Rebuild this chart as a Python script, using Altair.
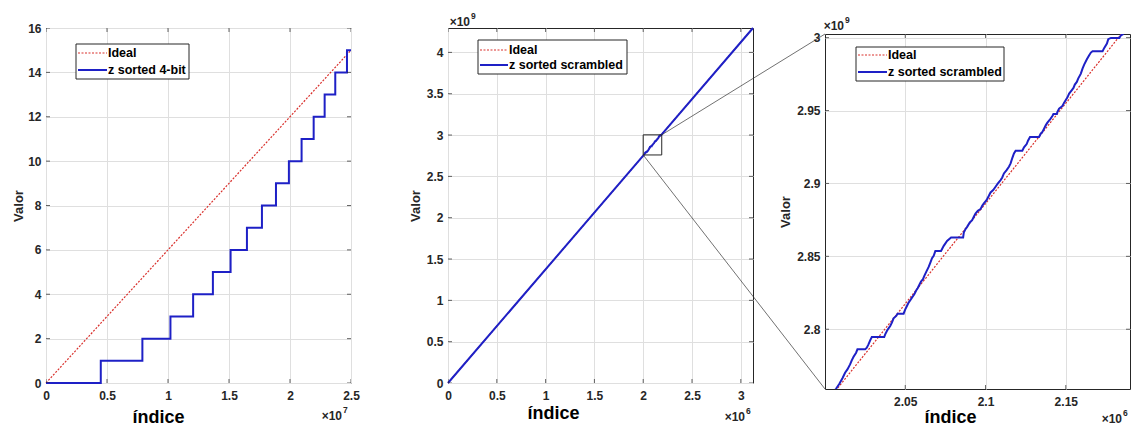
import altair as alt
import pandas as pd

# ---------------- data ----------------
# Panel 1: sorted 4-bit values (index in units of 1e7)
IDX4_IDEAL = [0.0, 2.5]
VAL4_IDEAL = [0.0, 15.0]
IDX4_SORTED = [0.0, 0.449, 0.790, 1.020, 1.206, 1.368, 1.513, 1.647, 1.770,
               1.885, 1.991, 2.095, 2.194, 2.284, 2.371, 2.467, 2.5]
VAL4_SORTED = [0, 1, 2, 3, 4, 5, 6, 7, 8, 9, 10, 11, 12, 13, 14, 15, 15]
X4_TICKS = [0, 0.5, 1, 1.5, 2, 2.5]
Y4_TICKS = [0, 2, 4, 6, 8, 10, 12, 14, 16]
LEGEND_4BIT = ["Ideal", "z sorted 4-bit"]

# Panels 2 and 3: sorted scrambled 32-bit values (index x1e6, value x1e9)
IDX_IDEAL = [0.0, 3.125]
VAL_IDEAL = [0.0, 4.294967296]
IDX_SCR = [
    0.0,
    2.00688, 2.00896, 2.01104, 2.01250, 2.01396, 2.01563, 2.01667, 2.01771, 2.01938, 2.02021,
    2.02500, 2.02604, 2.02708, 2.02813, 2.02917, 2.03688, 2.03750, 2.03854, 2.03958, 2.04063,
    2.04167, 2.04271, 2.04438, 2.04521, 2.04896, 2.05000, 2.05104, 2.05208, 2.05313, 2.05417,
    2.05563, 2.05688, 2.05771, 2.05896, 2.05979, 2.06104, 2.06188, 2.06313, 2.06458, 2.06563,
    2.06667, 2.06771, 2.06875, 2.07229, 2.07396, 2.07604, 2.07854, 2.08604, 2.08646, 2.08750,
    2.08854, 2.09021, 2.09167, 2.09271, 2.09375, 2.09521, 2.09688, 2.09792, 2.09896, 2.10063,
    2.10208, 2.10313, 2.10479, 2.10625, 2.10771, 2.10938, 2.11042, 2.11146, 2.11313, 2.11458,
    2.11563, 2.11667, 2.11771, 2.11875, 2.12292, 2.12396, 2.12563, 2.12646, 2.12771, 2.13333,
    2.13438, 2.13542, 2.13646, 2.13750, 2.13854, 2.14021, 2.14167, 2.14229, 2.14438, 2.14479,
    2.14583, 2.14792, 2.14896, 2.15000, 2.15104, 2.15208, 2.15354, 2.15479, 2.15563, 2.15688,
    2.15771, 2.15938, 2.16042, 2.16146, 2.16313, 2.16458, 2.16563, 2.16667, 2.17292, 2.17396,
    2.17563, 2.17646, 2.17813, 2.18333, 2.18438, 2.18542,
    3.125,
]
VAL_SCR = [
    0.0,
    2.75917, 2.76261, 2.76673, 2.77016, 2.77245, 2.77589, 2.77863, 2.78092, 2.78390, 2.78619,
    2.78619, 2.78734, 2.78963, 2.79237, 2.79466, 2.79466, 2.79650, 2.79879, 2.80062, 2.80222,
    2.80451, 2.80749, 2.80909, 2.81069, 2.81069, 2.81367, 2.81596, 2.81825, 2.81985, 2.82168,
    2.82397, 2.82672, 2.82810, 2.83084, 2.83268, 2.83428, 2.83657, 2.83955, 2.84275, 2.84573,
    2.84871, 2.85031, 2.85374, 2.85374, 2.85718, 2.86061, 2.86290, 2.86290, 2.86634, 2.86863,
    2.87023, 2.87321, 2.87481, 2.87710, 2.87939, 2.88122, 2.88237, 2.88466, 2.88626, 2.88855,
    2.89153, 2.89382, 2.89542, 2.89771, 2.90000, 2.90229, 2.90412, 2.90687, 2.90916, 2.91145,
    2.91374, 2.91740, 2.92061, 2.92244, 2.92244, 2.92473, 2.92702, 2.92931, 2.93183, 2.93183,
    2.93412, 2.93526, 2.93755, 2.93984, 2.94168, 2.94397, 2.94626, 2.94763, 2.94763, 2.94900,
    2.95129, 2.95313, 2.95542, 2.95725, 2.95908, 2.96160, 2.96366, 2.96549, 2.96778, 2.96961,
    2.97190, 2.97534, 2.97877, 2.98152, 2.98518, 2.98793, 2.98976, 2.99068, 2.99068, 2.99297,
    2.99595, 2.99892, 2.99984, 2.99984, 3.00167, 3.00213,
    4.294967296,
]
X_FULL_TICKS = [0, 0.5, 1, 1.5, 2, 2.5, 3]
Y_FULL_TICKS = [0, 0.5, 1, 1.5, 2, 2.5, 3, 3.5, 4]
X_ZOOM_TICKS = [2.05, 2.1, 2.15]
Y_ZOOM_TICKS = [2.8, 2.85, 2.9, 2.95, 3.0]
ZOOM_X = [2.0, 2.19]
ZOOM_Y = [2.759, 3.0025]
LEGEND_SCR = ["Ideal", "z sorted scrambled"]

# ---------------- styling ----------------
W, H = 305, 355          # plot area of every panel
GAP_1, GAP_2 = 97, 72    # horizontal gaps between plot areas
DY_ZOOM = 6              # the zoomed panel sits a little lower
FONT = "Liberation Sans"
INK = "#262626"
GRID = "#dfdfdf"
RED = "#d9302c"
BLUE = "#1e20c6"


def scale(dom):
    return alt.Scale(domain=dom, nice=False, zero=False)


def x_axis(ticks, title_x, title_base):
    return alt.Axis(values=ticks, format="~g", title="índice", grid=True,
                    gridColor=GRID, gridWidth=1, domain=False, ticks=False, tickSize=0,
                    labelFont=FONT, labelFontSize=12, labelFontWeight="bold",
                    labelColor=INK, labelPadding=7, labelFlush=False, labelOverlap=False,
                    titleFont=FONT, titleFontSize=18, titleFontWeight="bold",
                    titleColor="black", titleX=title_x, titleY=title_base,
                    titleAlign="center", titleBaseline="alphabetic")


def y_axis(ticks, title_off):
    return alt.Axis(values=ticks, format="~g", title="Valor", grid=True,
                    gridColor=GRID, gridWidth=1, domain=False, ticks=False, tickSize=0,
                    labelFont=FONT, labelFontSize=12, labelFontWeight="bold",
                    labelColor=INK, labelPadding=5, labelOverlap=False,
                    titleFont=FONT, titleFontSize=13, titleFontWeight="bold",
                    titleColor=INK, titleX=-title_off, titleY=H / 2, titleAngle=270,
                    titleAlign="center", titleBaseline="middle")


class Panel:
    """Shared scales and axes for all layers of one panel."""

    def __init__(self, xdom, ydom, xticks, yticks, xtitle_x, xtitle_base, ytitle_off):
        self.xdom, self.ydom = xdom, ydom
        self.xticks, self.yticks = xticks, yticks
        self.xa = x_axis(xticks, xtitle_x, xtitle_base)
        self.ya = y_axis(yticks, ytitle_off)

    def X(self, field):
        return alt.X(field, scale=scale(self.xdom), axis=self.xa)

    def Y(self, field):
        return alt.Y(field, scale=scale(self.ydom), axis=self.ya)

    def series(self, xs, ys, color, width, dash=None, interp="linear", clip=False):
        df = pd.DataFrame({"i": xs, "v": ys})
        kw = dict(color=color, strokeWidth=width, interpolate=interp, clip=clip)
        if dash:
            kw["strokeDash"] = dash
        return alt.Chart(df).mark_line(**kw).encode(x=self.X("i:Q"), y=self.Y("v:Q"))

    def inner_ticks(self):
        dx = pd.DataFrame({"i": self.xticks})
        dy = pd.DataFrame({"v": self.yticks})
        out = []
        for yy in (0, H):
            out.append(alt.Chart(dx).mark_tick(orient="vertical", size=8, thickness=1,
                                               color=INK, clip=True)
                       .encode(x=self.X("i:Q"), y=alt.value(yy)))
        for xx in (0, W):
            out.append(alt.Chart(dy).mark_tick(orient="horizontal", size=8, thickness=1,
                                               color=INK, clip=True)
                       .encode(y=self.Y("v:Q"), x=alt.value(xx)))
        return out


def legend(labels, x0, x1, y0, rows, sample_w):
    one = pd.DataFrame({"k": [0]})
    box = alt.Chart(one).mark_rect(fill="white", stroke=INK, strokeWidth=1).encode(
        x=alt.value(x0), x2=alt.value(x1), y=alt.value(y0), y2=alt.value(rows[1] + 9))
    red = alt.Chart(one).mark_rule(color=RED, strokeWidth=1.2, strokeDash=[2, 1.5]).encode(
        x=alt.value(x0 + 2), x2=alt.value(x0 + 2 + sample_w), y=alt.value(rows[0]))
    blue = alt.Chart(one).mark_rule(color=BLUE, strokeWidth=2).encode(
        x=alt.value(x0 + 2), x2=alt.value(x0 + 2 + sample_w), y=alt.value(rows[1]))
    texts = []
    for lab, ry in zip(labels, rows):
        texts.append(alt.Chart(pd.DataFrame({"label": [lab]})).mark_text(
            align="left", baseline="middle", font=FONT, fontSize=12.5,
            fontWeight="bold", color="black").encode(
            x=alt.value(x0 + sample_w + 3), y=alt.value(ry), text="label:N"))
    return [box, red, blue] + texts


def exponent(exp, right_edge, y):
    """'×10' with a superscript power; right_edge is where '×10' ends."""
    one = pd.DataFrame({"base": ["×10"], "exp": [exp]})
    base = alt.Chart(one).mark_text(align="right", baseline="middle", font=FONT,
                                    fontSize=12, fontWeight="bold", color=INK).encode(
        x=alt.value(right_edge), y=alt.value(y), text="base:N")
    sup = alt.Chart(one).mark_text(align="left", baseline="middle", font=FONT,
                                   fontSize=8.5, fontWeight="bold", color=INK).encode(
        x=alt.value(right_edge + 1), y=alt.value(y - 6), text="exp:N")
    return [base, sup]


# ---------------- panel 1 ----------------
P1 = Panel([0, 2.5], [0, 16], X4_TICKS, Y4_TICKS, 112, 39, 28)
p1 = alt.layer(
    P1.series(IDX4_IDEAL, VAL4_IDEAL, RED, 1.2, dash=[2, 1.5]),
    P1.series(IDX4_SORTED, VAL4_SORTED, BLUE, 2, interp="step-after"),
    *legend(LEGEND_4BIT, 30, 143, 16, [25, 42], 29),
    *P1.inner_ticks(),
    *exponent("7", W - 9, H + 33),
).properties(width=W, height=H)

# ---------------- panel 2 ----------------
P2 = Panel([0, IDX_IDEAL[1]], [0, VAL_IDEAL[1]], X_FULL_TICKS, Y_FULL_TICKS, 105, 35, 33)
# the zoom window and the lines that lead to the zoomed panel's corners
corner_x = IDX_IDEAL[1] * (W + GAP_2) / W
corner_top = VAL_IDEAL[1] * (1 - DY_ZOOM / H)
corner_bot = VAL_IDEAL[1] * (1 - (H + DY_ZOOM) / H)
conn = pd.DataFrame({"i": [ZOOM_X[1], ZOOM_X[0]], "v": [ZOOM_Y[1], ZOOM_Y[0]],
                     "i2": [corner_x, corner_x], "v2": [corner_top, corner_bot]})
win = pd.DataFrame({"i": [ZOOM_X[0]], "i2": [ZOOM_X[1]], "v": [ZOOM_Y[0]], "v2": [ZOOM_Y[1]]})
connectors = alt.Chart(conn).mark_rule(color="#333333", strokeWidth=0.7, clip=False).encode(
    x=P2.X("i:Q"), x2="i2:Q", y=P2.Y("v:Q"), y2="v2:Q")
window = alt.Chart(win).mark_rect(fillOpacity=0, stroke=INK, strokeWidth=1).encode(
    x=P2.X("i:Q"), x2="i2:Q", y=P2.Y("v:Q"), y2="v2:Q")

p2 = alt.layer(
    P2.series(IDX_IDEAL, VAL_IDEAL, RED, 1.2, dash=[2, 1.5]),
    P2.series(IDX_SCR, VAL_SCR, BLUE, 2),
    window, connectors,
    *legend(LEGEND_SCR, 30, 179, 12, [22, 37], 28),
    *P2.inner_ticks(),
    *exponent("9", 22, -6),
    *exponent("6", W - 8, H + 34),
).properties(width=W, height=H)

# ---------------- panel 3 (zoom) ----------------
P3 = Panel(ZOOM_X, ZOOM_Y, X_ZOOM_TICKS, Y_ZOOM_TICKS, 125, 33, 40)
p3 = alt.layer(
    P3.series(IDX_IDEAL, VAL_IDEAL, RED, 1.2, dash=[2, 1.5], clip=True),
    P3.series(IDX_SCR, VAL_SCR, BLUE, 2, clip=True),
    *legend(LEGEND_SCR, 31, 179, 13, [21, 38], 29),
    *P3.inner_ticks(),
    *exponent("9", 19, -8),
    *exponent("6", W - 8, H + 30),
).properties(width=W, height=H)

spacer = alt.Chart(pd.DataFrame({"k": [0]})).mark_point(opacity=0).encode(
    x=alt.value(0), y=alt.value(0)
).properties(width=1, height=1, view=alt.ViewBackground(stroke="transparent"))

right_col = alt.vconcat(spacer, p3, spacing=DY_ZOOM - 1, bounds="flush")
right_pair = alt.hconcat(p2, right_col, spacing=GAP_2, bounds="flush")

chart = alt.hconcat(p1, right_pair, spacing=GAP_1, bounds="flush").properties(
    padding={"left": 11, "top": 11, "right": 0, "bottom": 0},
    background="white",
).configure(font=FONT).configure_view(stroke=INK, strokeWidth=1)

chart.save("out.html", embed_options={"renderer": "svg", "actions": False})
